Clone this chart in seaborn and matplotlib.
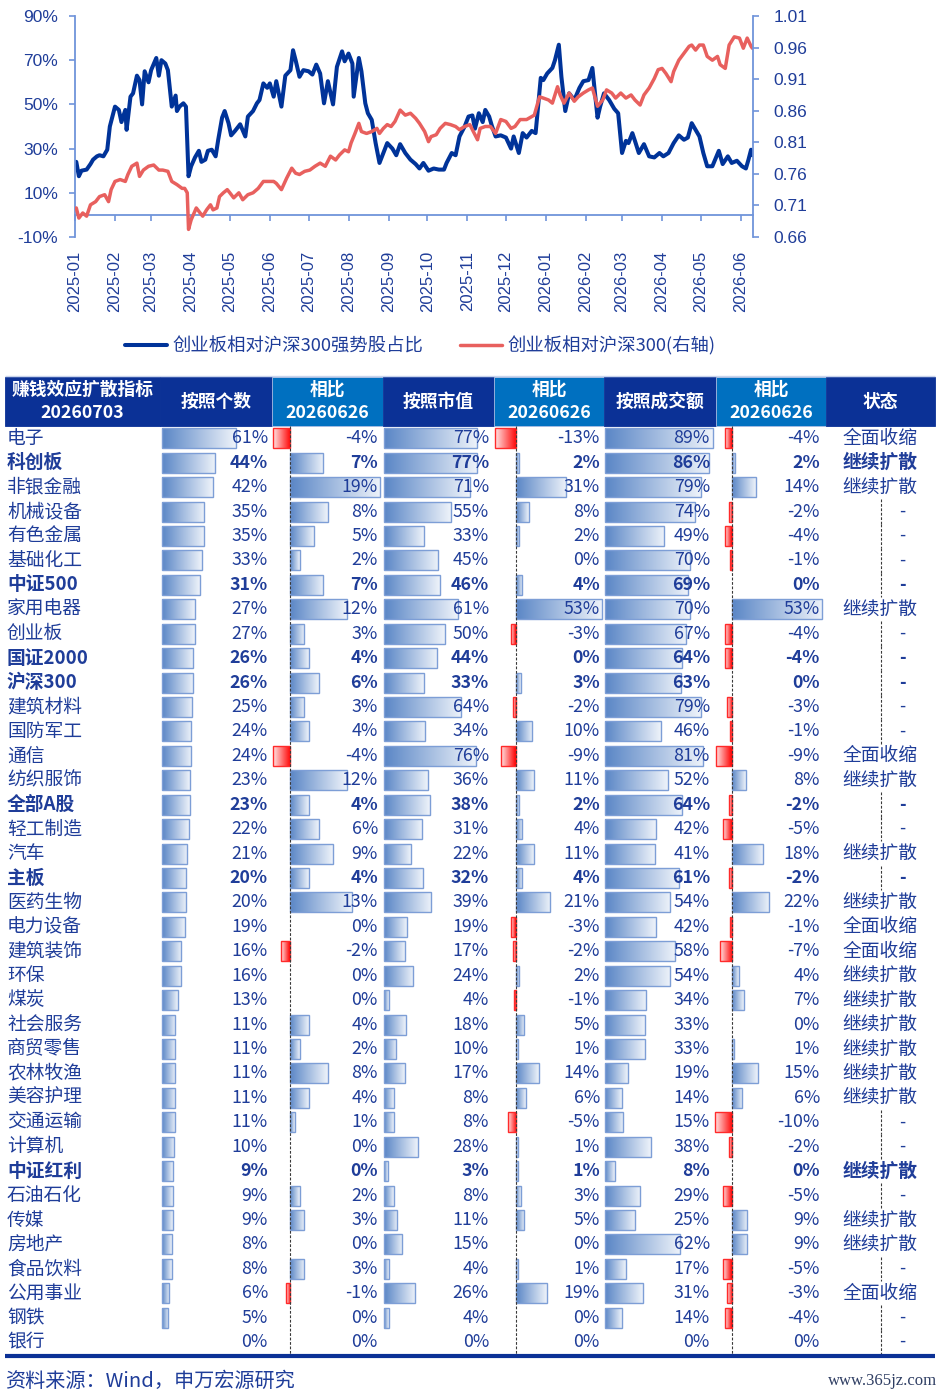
import numpy as np
import pandas as pd
import matplotlib
matplotlib.use("Agg")
import matplotlib.pyplot as plt
import matplotlib.dates as mdates
from matplotlib.patches import Rectangle
from matplotlib.colors import LinearSegmentedColormap
import seaborn as sns

# ---------------- line chart data (days since 2025-01-01) ----------------
blue_days = [1, 3, 5, 9, 12, 14, 17, 19, 22, 25, 27, 31, 34, 36, 39, 40, 43, 45, 48, 50,
             52, 54, 57, 59, 63, 65, 67, 70, 72, 75, 78, 79, 81, 84, 86, 88, 90, 93, 96, 98,
             101, 103, 106, 109, 111, 114, 116, 119, 121, 124, 128, 132, 134, 138, 141, 143, 146, 149, 151, 154,
             156, 160, 163, 167, 169, 171, 174, 177, 181, 184, 187, 190, 193, 196, 200, 203, 207, 209, 212, 215,
             216, 220, 222, 225, 227, 230, 233, 236, 239, 242, 246, 249, 252, 256, 260, 264, 267, 270, 274, 278,
             282, 286, 288, 292, 295, 298, 302, 305, 308,
             310, 313, 316, 318, 321, 323, 326, 330, 334, 338, 340, 344, 347, 350, 354, 357, 361, 363, 366, 370,
             372, 375, 377, 380, 383, 387, 391, 394, 398, 401, 405, 407, 410, 414, 418, 421, 424, 427, 429, 432,
             434, 437, 441, 445, 449, 453, 456, 460, 464, 468, 472, 475, 478, 481, 484, 487, 490, 494, 499, 502,
             506, 509, 513, 517, 520, 522, 524, 525]
blue_vals = [24, 17.5, 20, 20.5, 23, 25, 26.5, 27, 26.5, 29.5, 40, 49, 47.5, 42, 47.5, 38.5, 53.5, 55, 63, 61,
             50, 65, 60, 65.5, 71, 63, 70, 68.5, 65.5, 49, 54, 47, 49, 50.5, 49, 17.5, 22, 26, 29, 24,
             25, 29, 29.5, 26.5, 34, 44, 47, 41.5, 36, 38, 41, 35.5, 44.5, 47, 50.5, 52, 59.5, 57.5, 59.5, 53.5,
             60.5, 49, 63, 65.5, 74.5, 70, 62.5, 65.5, 65, 63.5, 68, 64, 50.5, 60.5, 50, 67, 74, 69.5, 73, 68.5,
             53.5, 71, 65, 50.5, 46, 43, 32.5, 23.5, 28, 32.5, 30, 27, 32, 28, 25, 23, 21, 23.5, 20, 21,
             20.5, 20.5, 23.5, 28, 27, 35.5, 40, 44.5, 45,
             39, 46, 42, 47.5, 44.5, 40.5, 35.5, 36, 35, 30, 35.5, 28, 37, 35, 38, 37, 62, 61, 64, 66.5,
             70, 77, 62.5, 47, 55, 52, 57.5, 60.5, 61, 66.5, 44, 49, 55, 52, 48, 46, 28, 33.5, 32.5, 37,
             33.5, 28, 32, 26.5, 26, 28, 26.5, 28, 32.5, 36, 34, 35, 41.5, 38.5, 35.5, 28, 22, 22, 29, 23,
             26.5, 23.5, 24.5, 22, 21, 25, 29.5, 27]

red_days = [1, 3, 6, 9, 12, 16, 19, 23, 26, 28, 31, 35, 39, 41, 44, 48, 50, 53, 57, 61,
            65, 68, 72, 75, 79, 83, 85, 87, 88, 90, 94, 97, 99, 102, 105, 107, 110, 112, 115, 118,
            120, 123, 127, 130, 134, 138, 142, 146, 150, 154, 156, 160, 164, 168, 171, 174, 178, 182, 186, 190,
            194, 198, 202, 205, 209, 212, 214, 217, 220, 222, 226, 230, 234, 236, 239, 242, 245, 248, 252, 256,
            260, 264, 267, 271, 274, 276, 280, 283, 287, 291, 295, 298, 302, 306,
            308, 312, 314, 318, 322, 326, 330, 334, 338, 341, 345, 350, 356, 360, 363, 367, 370, 374, 376, 379,
            383, 387, 390, 394, 398, 401, 405, 409, 412, 416, 419, 423, 427, 431, 434, 438, 441, 445, 449, 452,
            455, 458, 462, 464, 468, 472, 476, 478, 481, 484, 487, 490, 494, 498, 500, 504, 507, 511, 515, 518,
            521, 524, 525]
red_vals = [0.706, 0.690, 0.698, 0.693, 0.711, 0.716, 0.724, 0.727, 0.716, 0.735, 0.748, 0.751, 0.748, 0.759,
            0.772, 0.777, 0.756, 0.766, 0.772, 0.774, 0.766, 0.766, 0.764, 0.748, 0.743, 0.737, 0.737, 0.730,
            0.672, 0.687, 0.706, 0.698, 0.693, 0.703, 0.711, 0.703, 0.706, 0.724, 0.730, 0.735, 0.730, 0.722,
            0.730, 0.719, 0.727, 0.730, 0.737, 0.748, 0.748, 0.748, 0.745, 0.735, 0.753, 0.769, 0.761, 0.759,
            0.764, 0.766, 0.772, 0.777, 0.772, 0.788, 0.782, 0.790, 0.798, 0.795, 0.809, 0.824, 0.840, 0.827,
            0.824, 0.827, 0.832, 0.824, 0.832, 0.838, 0.835, 0.843, 0.861, 0.853, 0.856, 0.848, 0.840, 0.827,
            0.811, 0.819, 0.822, 0.832, 0.840, 0.838, 0.835, 0.830, 0.835, 0.838,
            0.830, 0.814, 0.832, 0.835, 0.835, 0.824, 0.846, 0.843, 0.832, 0.835, 0.846, 0.846, 0.853, 0.882,
            0.880, 0.877, 0.872, 0.898, 0.885, 0.872, 0.888, 0.875, 0.882, 0.888, 0.893, 0.896, 0.867, 0.877,
            0.893, 0.888, 0.880, 0.888, 0.880, 0.885, 0.877, 0.869, 0.885, 0.896, 0.911, 0.925, 0.927, 0.919,
            0.906, 0.922, 0.940, 0.951, 0.962, 0.964, 0.956, 0.964, 0.964, 0.946, 0.940, 0.946, 0.933, 0.927,
            0.964, 0.977, 0.975, 0.959, 0.975, 0.962, 0.959]

left_ticks = [-10, 10, 30, 50, 70, 90]
right_ticks = [0.66, 0.71, 0.76, 0.81, 0.86, 0.91, 0.96, 1.01]
blue_label = "创业板相对沪深300强势股占比"
red_label = "创业板相对沪深300(右轴)"

# ---------------- table data ----------------
names = ["电子", "科创板", "非银金融", "机械设备", "有色金属", "基础化工", "中证500", "家用电器", "创业板", "国证2000",
         "沪深300", "建筑材料", "国防军工", "通信", "纺织服饰", "全部A股", "轻工制造", "汽车", "主板", "医药生物",
         "电力设备", "建筑装饰", "环保", "煤炭", "社会服务", "商贸零售", "农林牧渔", "美容护理", "交通运输", "计算机",
         "中证红利", "石油石化", "传媒", "房地产", "食品饮料", "公用事业", "钢铁", "银行"]
bold_names = ["科创板", "中证500", "国证2000", "沪深300", "全部A股", "主板", "中证红利"]
cnt = [61, 44, 42, 35, 35, 33, 31, 27, 27, 26, 26, 25, 24, 24, 23, 23, 22, 21, 20, 20,
       19, 16, 16, 13, 11, 11, 11, 11, 11, 10, 9, 9, 9, 8, 8, 6, 5, 0]
cnt_chg = [-4, 7, 19, 8, 5, 2, 7, 12, 3, 4, 6, 3, 4, -4, 12, 4, 6, 9, 4, 13,
           0, -2, 0, 0, 4, 2, 8, 4, 1, 0, 0, 2, 3, 0, 3, -1, 0, 0]
mv = [77, 77, 71, 55, 33, 45, 46, 61, 50, 44, 33, 64, 34, 76, 36, 38, 31, 22, 32, 39,
      19, 17, 24, 4, 18, 10, 17, 8, 8, 28, 3, 8, 11, 15, 4, 26, 4, 0]
mv_chg = [-13, 2, 31, 8, 2, 0, 4, 53, -3, 0, 3, -2, 10, -9, 11, 2, 4, 11, 4, 21,
          -3, -2, 2, -1, 5, 1, 14, 6, -5, 1, 1, 3, 5, 0, 1, 19, 0, 0]
amt = [89, 86, 79, 74, 49, 70, 69, 70, 67, 64, 63, 79, 46, 81, 52, 64, 42, 41, 61, 54,
       42, 58, 54, 34, 33, 33, 19, 14, 15, 38, 8, 29, 25, 62, 17, 31, 14, 0]
amt_chg = [-4, 2, 14, -2, -4, -1, 0, 53, -4, -4, 0, -3, -1, -9, 8, -2, -5, 18, -2, 22,
           -1, -7, 4, 7, 0, 1, 15, 6, -10, -2, 0, -5, 9, 9, -5, -3, -4, 0]
status = ["全面收缩", "继续扩散", "继续扩散", "-", "-", "-", "-", "继续扩散", "-", "-",
          "-", "-", "-", "全面收缩", "继续扩散", "-", "-", "继续扩散", "-", "继续扩散",
          "全面收缩", "全面收缩", "继续扩散", "继续扩散", "继续扩散", "继续扩散", "继续扩散", "继续扩散", "-", "-",
          "继续扩散", "-", "继续扩散", "继续扩散", "-", "全面收缩", "-", "-"]
header_title = ["赚钱效应扩散指标", "20260703"]
header_cols = ["按照个数", "相比\n20260626", "按照市值", "相比\n20260626", "按照成交额", "相比\n20260626", "状态"]
source_text = "资料来源：Wind，申万宏源研究"
watermark = "www.365jz.com"

# ---------------- style ----------------
sns.set_theme(style="white")
plt.rcParams["font.family"] = ["Noto Sans CJK SC", "DejaVu Sans"]
plt.rcParams["axes.unicode_minus"] = False

W, H = 944, 1396
BLUE = "#003399"
RED = "#E8605E"
TXT = "#1F3D99"
SPINE = "#6F94DA"
HDR_DARK = "#0B3196"
HDR_LIGHT = "#0070C0"
FS_NAME = 13.5
FS_NUM = 12.8

fig = plt.figure(figsize=(W / 100, H / 100), dpi=100)

# ---------------- line chart ----------------
start = pd.Timestamp("2025-01-01")
df_b = pd.DataFrame({"date": start + pd.to_timedelta(blue_days, unit="D"), "v": blue_vals})
df_r = pd.DataFrame({"date": start + pd.to_timedelta(red_days, unit="D"), "v": red_vals})

ax = fig.add_axes([75 / W, 1 - 237 / H, (753 - 75) / W, (237 - 16) / H])
ax.patch.set_alpha(0)
sns.lineplot(data=df_b, x="date", y="v", ax=ax, color=BLUE, linewidth=2.9, label=blue_label)
ax2 = ax.twinx()
sns.lineplot(data=df_r, x="date", y="v", ax=ax2, color=RED, linewidth=2.5, label=red_label)

ax.set_xlim(start, pd.Timestamp("2026-06-10 12:00"))
ax.set_ylim(-10, 90)
ax.set_yticks(left_ticks)
ax.set_yticklabels([f"{t}%" for t in left_ticks])
ax2.set_ylim(0.66, 1.01)
ax2.set_yticks(right_ticks)
ax2.set_yticklabels([f"{t:.2f}" for t in right_ticks])
ax.xaxis.set_major_locator(mdates.MonthLocator())
ax.xaxis.set_major_formatter(mdates.DateFormatter("%Y-%m"))
ax.set_xlabel("")
ax.set_ylabel("")
ax2.set_ylabel("")

for a in (ax, ax2):
    for s in a.spines.values():
        s.set_visible(False)
ax.spines["left"].set_visible(True)
ax.spines["left"].set_color(SPINE)
ax.spines["left"].set_linewidth(1.3)
ax.spines["bottom"].set_visible(True)
ax.spines["bottom"].set_position(("data", 0))
ax.spines["bottom"].set_color(SPINE)
ax.spines["bottom"].set_linewidth(1.3)
ax2.spines["right"].set_visible(True)
ax2.spines["right"].set_color(SPINE)
ax2.spines["right"].set_linewidth(1.3)

ax.tick_params(axis="y", left=True, direction="out", length=4, width=1.2, color=SPINE,
               labelcolor=TXT, labelsize=12.5, pad=8, labelfontfamily="Liberation Sans")
ax.tick_params(axis="x", bottom=True, direction="out", length=4, width=1.2, color=SPINE,
               labelcolor=TXT, labelsize=12, pad=22, labelrotation=90, labelfontfamily="Liberation Sans")
ax2.tick_params(axis="y", right=True, direction="out", length=4, width=1.2, color=SPINE,
                labelcolor=TXT, labelsize=12.5, pad=11, labelfontfamily="Liberation Sans")

h1, l1 = ax.get_legend_handles_labels()
h2, l2 = ax2.get_legend_handles_labels()
ax.get_legend().remove()
ax2.get_legend().remove()
fig.legend(h1 + h2, l1 + l2, loc="center", bbox_to_anchor=(420 / W, 1 - 346 / H), ncol=2,
           frameon=False, fontsize=13.2, handlelength=2.3, columnspacing=2.0, handletextpad=0.3,
           labelcolor=TXT)

# ---------------- table ----------------
axt = fig.add_axes([0, 0, 1, 1])
axt.set_xlim(0, W)
axt.set_ylim(H, 0)
axt.set_autoscale_on(False)
axt.axis("off")

n = len(names)
row_h = 24.43
ys = 426 + (np.arange(n) + 0.5) * row_h
BAR_H = 20

# header
edges = [5, 160, 272, 383, 494, 604, 716, 826, 935]
hdr_top, hdr_bot = 377, 426
for i in range(len(edges) - 1):
    light = i in (2, 4, 6)
    axt.add_patch(Rectangle((edges[i], hdr_top), edges[i + 1] - edges[i], hdr_bot - hdr_top,
                            facecolor=HDR_LIGHT if light else HDR_DARK,
                            edgecolor="#A9BCE3" if light else HDR_DARK, linewidth=0.6, zorder=1))
hdr_mid = (hdr_top + hdr_bot) / 2
axt.text((edges[0] + edges[1]) / 2, 390, header_title[0], ha="center", va="center",
         color="white", fontsize=12.8, fontweight="bold", zorder=5)
axt.text((edges[0] + edges[1]) / 2, 413, header_title[1], ha="center", va="center",
         color="white", fontsize=12.8, fontweight="bold", zorder=5)
for i, lab in enumerate(header_cols):
    cx = (edges[i + 1] + edges[i + 2]) / 2
    parts = lab.split("\n")
    if len(parts) == 2:
        axt.text(cx, 390, parts[0], ha="center", va="center", color="white",
                 fontsize=12.8, fontweight="bold", zorder=5)
        axt.text(cx, 413, parts[1], ha="center", va="center", color="white",
                 fontsize=12.8, fontweight="bold", zorder=5)
    else:
        axt.text(cx, hdr_mid, lab, ha="center", va="center", color="white",
                 fontsize=12.8, fontweight="bold", zorder=5)
axt.hlines(376, 5, 935, colors="#C9D4EC", linewidth=1, zorder=2)

# data bars with gradient fill
blue_cm = LinearSegmentedColormap.from_list("bl", ["#5A86C6", "#EEF3FA"])
red_cm = LinearSegmentedColormap.from_list("rd", ["#FF0000", "#FFE6E6"])
grad = np.linspace(0, 1, 256).reshape(1, -1)

columns = [
    # values, bar origin, px per % (pos, neg), value text right edge
    (cnt, 162, 1.21, 1.21, 268),
    (cnt_chg, 290, 4.75, 4.3, 378),
    (mv, 384, 1.21, 1.21, 489),
    (mv_chg, 516, 1.62, 1.62, 600),
    (amt, 605, 1.21, 1.21, 710),
    (amt_chg, 732, 1.7, 1.75, 820),
]

for vals, x0, kpos, kneg, tx in columns:
    v = np.array(vals, dtype=float)
    widths = np.where(v >= 0, v * kpos, v * kneg)
    bars = axt.barh(ys, widths, left=x0, height=BAR_H, zorder=3)
    for p, val in zip(bars.patches, v):
        w = p.get_width()
        if w == 0:
            p.set_visible(False)
            continue
        cm = blue_cm if val > 0 else red_cm
        ec = "#7D9ED6" if val > 0 else "#FF2A2A"
        px, py, ph = p.get_x(), p.get_y(), p.get_height()
        axt.imshow(grad, cmap=cm, extent=(px, px + w, py + ph, py), aspect="auto",
                   interpolation="bilinear", zorder=2.5)
        p.set_facecolor("none")
        p.set_edgecolor(ec)
        p.set_linewidth(1.0)
    for y, val, nm in zip(ys, vals, names):
        axt.text(tx, y, f"{val}%", ha="right", va="center", color=TXT, fontsize=FS_NUM,
                 fontweight="bold" if nm in bold_names else "normal", zorder=5)

# zero lines of the change columns
axt.vlines([290, 516, 732], hdr_bot, 1354, colors="#3A3A3A", linestyles=(0, (2.5, 1.5)),
           linewidth=0.8, zorder=4)

# names and status
for y, nm, st in zip(ys, names, status):
    fw = "bold" if nm in bold_names else "normal"
    axt.text(7, y, nm, ha="left", va="center", color=TXT, fontsize=FS_NAME, fontweight=fw, zorder=5)
    if st == "-":
        axt.vlines(881, y - row_h / 2, y + row_h / 2, colors="#3A3A3A", linestyles=(0, (2.5, 1.5)),
                   linewidth=0.8, zorder=4)
        axt.text(902, y, st, ha="center", va="center", color=TXT, fontsize=FS_NUM, fontweight=fw, zorder=5)
    else:
        axt.text(880, y, st, ha="center", va="center", color=TXT, fontsize=FS_NAME, fontweight=fw, zorder=5)

axt.hlines(1356, 5, 935, colors=HDR_DARK, linewidth=3, zorder=5)
axt.text(5, 1381, source_text, ha="left", va="center", color=TXT, fontsize=14.5)
axt.text(937, 1381, watermark, ha="right", va="center", color="#2F3E63", fontsize=12,
         family="Liberation Serif")

fig.savefig("out.png", dpi=100)
